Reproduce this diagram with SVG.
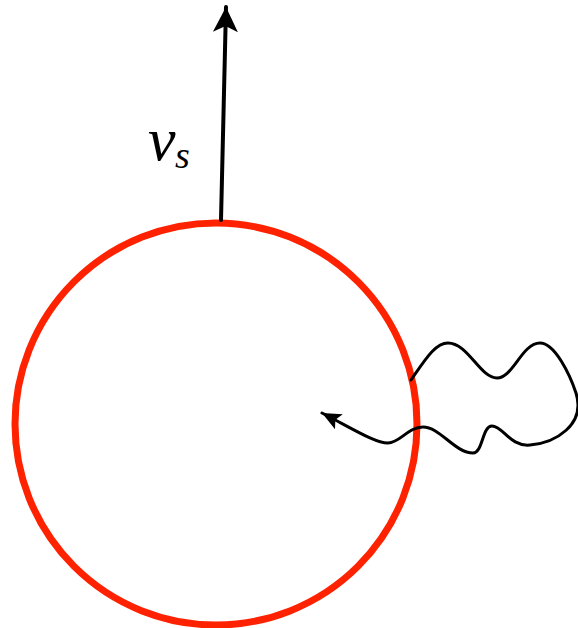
<svg xmlns="http://www.w3.org/2000/svg" width="578" height="628" viewBox="0 0 578 628">
<style>
.ln{fill:none;stroke:#000;stroke-linecap:round;stroke-linejoin:round}
.lbl{font-family:"Liberation Serif","DejaVu Serif",serif;font-style:italic;fill:#000}
</style>
<defs>
<marker id="ah" viewBox="0 0 20 18" refX="19" refY="9" markerWidth="20" markerHeight="18" markerUnits="userSpaceOnUse" orient="auto" overflow="visible">
<path d="M0,0.5 L19,9 L0,17.5 L4,9 Z" fill="#000"/>
</marker>
<marker id="ah2" viewBox="0 0 26 26" refX="25" refY="13" markerWidth="26" markerHeight="26" markerUnits="userSpaceOnUse" orient="auto" overflow="visible">
<path d="M0,0.5 L25,13 L0,25.5 L6,13 Z" fill="#000"/>
</marker>
</defs>
<g id="sphere">
<circle cx="216" cy="424" r="201" fill="none" stroke="#ff2200" stroke-width="7"/>
</g>
<g id="connectors">
<path class="ln" d="M221,220 L226,7" stroke-width="4" stroke-linecap="butt" marker-end="url(#ah2)"/>
<path class="ln" stroke-width="3" marker-end="url(#ah)" d="M411,380 C425,360 435,343 448,343 C468,343 480,378 497,378 C513,378 522,343 540,343 C555,343 570,375 576,393 C586,425 555,443 530,445 C510,447 503,426 492,426 C482,426 483,453 473,453 C455,453 440,427 423,427 C408,427 400,443 388,443 C375,443 355,430 322,413"/>
</g>
<g id="label">
<text class="lbl" x="148" y="160" font-size="62">v</text>
<text class="lbl" x="175" y="168" font-size="38">s</text>
</g>
</svg>
